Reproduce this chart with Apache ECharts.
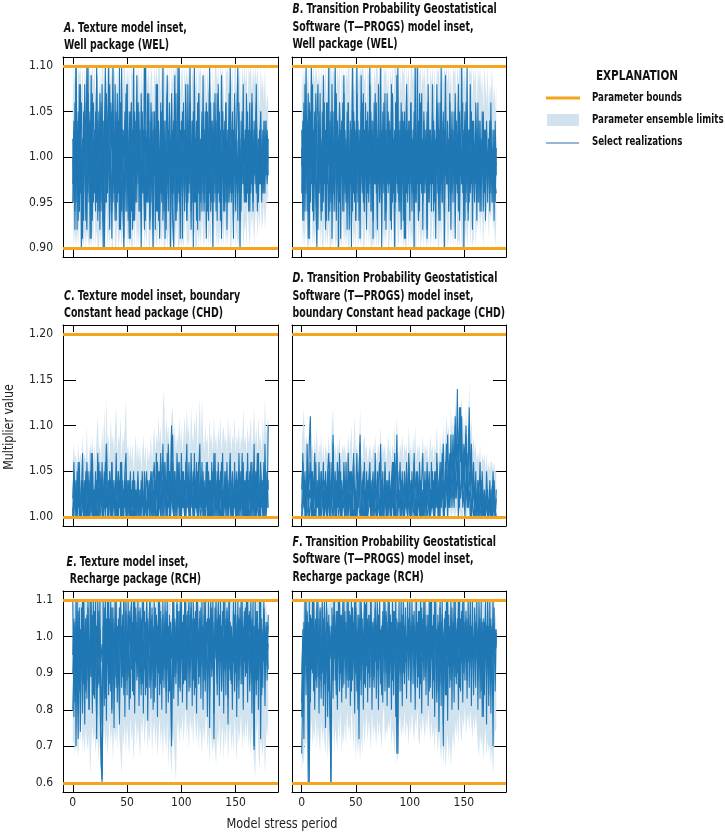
<!DOCTYPE html>
<html><head><meta charset="utf-8">
<script src="https://cdn.jsdelivr.net/npm/echarts@6/dist/echarts.min.js"></script>
<style>html,body{margin:0;padding:0;background:#fff}#c{width:725px;height:833px}</style>
</head><body><div id="c"></div>
<script>
// ---------------- DATA ----------------
const WEL_BOUNDS = [0.90, 1.10];
const CHD_BOUNDS = [1.00, 1.20];
const RCH_BOUNDS = [0.60, 1.10];

// Panel A: Texture model inset, WEL
const A_hi = [1.06,1.10,1.08,1.10,1.05,1.10,1.09,1.10,1.07,1.10,1.04,1.10,1.08,1.10,1.06,1.10,1.09,1.05,1.10,1.08,
1.10,1.06,1.10,1.09,1.04,1.10,1.07,1.10,1.10,1.05,1.10,1.08,1.10,1.06,1.10,1.08,1.10,1.04,1.10,1.09,
1.07,1.10,1.05,1.10,1.08,1.10,1.06,1.10,1.10,1.04,1.10,1.08,1.10,1.05,1.10,1.09,1.07,1.10,1.06,1.10,
1.08,1.10,1.05,1.10,1.07,1.10,1.10,1.04,1.10,1.08,1.10,1.06,1.10,1.09,1.05,1.10,1.08,1.10,1.04,1.10,
1.10,1.07,1.10,1.05,1.10,1.09,1.06,1.10,1.08,1.10,1.04,1.10,1.08,1.10,1.06,1.10,1.10,1.05,1.10,1.07,
1.09,1.10,1.04,1.10,1.08,1.10,1.06,1.10,1.10,1.05,1.10,1.08,1.10,1.07,1.10,1.04,1.10,1.09,1.10,1.06,
1.10,1.08,1.10,1.05,1.10,1.07,1.10,1.09,1.04,1.10,1.06,1.10,1.10,1.08,1.10,1.05,1.10,1.08,1.10,1.07,
1.04,1.10,1.09,1.10,1.06,1.10,1.08,1.10,1.05,1.10,1.10,1.07,1.10,1.08,1.10,1.04,1.10,1.06,1.10,1.08,
1.10,1.05,1.10,1.09,1.10,1.06,1.10,1.08,1.10,1.04,1.10,1.08,1.05,1.10,1.07,1.09,1.06,1.10,1.05,1.07,
1.06];
const A_lo = [0.94,0.90,0.95,0.90,0.92,0.90,0.94,0.90,0.90,0.96,0.90,0.92,0.90,0.95,0.91,0.90,0.94,0.90,0.92,0.90,
0.95,0.90,0.92,0.90,0.90,0.96,0.90,0.93,0.90,0.91,0.90,0.95,0.90,0.92,0.90,0.94,0.90,0.90,0.96,0.90,
0.90,0.93,0.90,0.91,0.95,0.90,0.92,0.90,0.90,0.94,0.90,0.92,0.90,0.96,0.90,0.90,0.93,0.90,0.95,0.90,
0.92,0.90,0.94,0.90,0.91,0.96,0.90,0.92,0.90,0.95,0.90,0.90,0.93,0.90,0.92,0.90,0.95,0.90,0.91,0.94,
0.90,0.92,0.90,0.95,0.90,0.90,0.94,0.90,0.92,0.90,0.96,0.90,0.91,0.90,0.93,0.90,0.95,0.90,0.90,0.92,
0.90,0.94,0.90,0.92,0.95,0.90,0.91,0.90,0.93,0.90,0.96,0.90,0.92,0.90,0.90,0.94,0.90,0.92,0.90,0.95,
0.91,0.90,0.93,0.90,0.96,0.90,0.92,0.90,0.94,0.90,0.90,0.95,0.90,0.92,0.90,0.91,0.96,0.90,0.93,0.90,
0.94,0.90,0.92,0.90,0.95,0.90,0.90,0.93,0.90,0.96,0.90,0.92,0.90,0.91,0.94,0.90,0.95,0.90,0.92,0.93,
0.90,0.95,0.92,0.90,0.94,0.92,0.96,0.90,0.93,0.95,0.91,0.94,0.92,0.96,0.92,0.93,0.95,0.92,0.94,0.96,
0.94];
const A_r1 = [0.97,1.03,0.94,1.10,0.92,1.05,0.99,1.08,0.95,1.02,0.93,1.06,1.00,1.10,0.96,1.04,0.91,1.01,1.07,0.95,
1.03,0.98,1.09,0.93,1.05,1.00,0.94,1.08,0.97,1.02,1.10,0.95,1.04,0.99,0.92,1.06,1.01,1.10,0.96,1.03,
0.94,1.07,0.98,1.05,0.93,1.10,0.96,0.91,1.04,0.99,1.08,0.93,1.02,0.97,1.06,0.92,1.00,1.05,0.95,1.09,
0.98,1.03,0.94,1.07,1.00,0.96,1.02,1.10,0.95,1.04,0.99,0.93,1.06,1.01,0.97,1.05,0.92,1.08,0.99,1.03,
0.94,1.06,1.00,0.97,1.04,0.91,1.02,1.09,0.96,1.03,0.99,1.07,0.93,0.90,1.05,0.98,1.01,1.10,0.95,1.02,
0.97,1.05,1.00,0.94,1.08,0.99,1.03,0.96,1.06,0.92,1.01,0.97,1.10,0.95,1.04,0.98,1.07,0.93,1.00,1.05,
0.96,1.03,0.99,1.06,0.94,1.01,1.08,0.97,1.04,1.00,0.95,1.07,0.98,1.02,0.96,1.05,0.93,1.09,1.00,0.97,
1.04,0.95,1.02,0.99,1.07,0.96,1.03,1.00,0.93,1.06,0.98,1.04,1.10,0.96,1.01,0.94,1.05,0.99,1.02,0.95,
1.07,0.98,1.03,0.94,1.01,1.06,0.97,1.04,0.99,1.08,0.96,1.02,0.98,1.05,0.97,1.03,1.00,0.96,1.04,0.99,
1.02];
const A_r2 = [1.02,0.95,1.06,0.98,1.04,0.93,1.08,0.96,1.01,0.91,1.05,0.99,0.94,1.03,1.07,0.97,1.00,1.09,0.93,1.02,
0.96,1.05,0.99,1.03,0.94,1.07,1.01,0.95,1.04,0.90,0.98,1.06,0.96,1.02,1.08,0.97,0.94,1.03,1.00,0.93,
1.05,0.96,1.02,0.92,1.06,0.98,1.03,0.95,0.99,1.07,0.94,1.01,0.91,1.05,0.97,1.02,0.93,0.98,1.04,0.95,
1.06,0.97,1.01,0.94,1.04,0.99,0.92,1.03,0.98,1.07,0.95,1.02,0.97,1.05,0.94,0.99,1.03,0.96,1.08,0.93,
1.01,0.96,1.05,0.93,0.99,1.04,0.97,1.02,0.94,1.06,0.92,0.98,1.03,0.96,1.00,1.07,0.94,0.99,1.02,0.91,
1.04,0.98,1.02,0.95,1.06,0.93,0.99,1.04,0.97,1.01,0.95,1.05,0.96,1.02,0.93,1.06,0.98,1.01,0.95,1.03,
0.99,0.94,1.05,0.97,1.02,0.93,1.00,1.06,0.95,1.03,0.98,1.01,0.94,1.07,0.99,0.96,1.03,0.97,1.05,0.94,
1.00,1.06,0.97,1.03,0.95,1.01,0.98,1.05,0.96,1.02,0.94,1.00,0.97,1.06,0.93,1.02,0.98,1.04,0.96,1.01,
0.95,1.03,0.98,1.06,0.97,1.00,0.94,1.02,0.97,1.05,0.99,0.95,1.03,0.97,1.01,0.96,1.04,0.98,1.00,0.97,
1.00];
const A_r3 = [1.00,0.97,1.01,0.95,1.03,0.98,0.94,1.02,1.06,0.97,0.99,1.03,0.96,0.92,1.01,1.05,0.98,0.95,1.02,1.06,
0.99,1.01,0.95,1.04,0.98,0.96,1.03,1.00,0.93,0.99,1.04,0.97,1.01,1.06,0.96,1.00,1.05,0.95,1.02,0.98,
1.00,0.95,1.04,0.98,1.01,0.94,0.99,1.03,0.96,1.00,1.02,0.97,1.05,0.99,0.94,1.03,0.98,1.01,0.97,1.02,
0.99,1.05,0.97,1.00,0.96,1.03,0.98,0.95,1.02,0.99,1.04,0.97,1.00,0.95,1.03,0.98,1.01,0.94,1.00,1.04,
0.97,1.01,0.95,1.03,0.98,1.00,0.94,0.97,1.03,0.98,1.01,0.96,1.00,1.04,0.97,0.93,1.02,0.98,0.96,1.03,
1.00,0.96,0.99,1.03,0.97,1.01,0.95,1.00,1.02,0.98,1.04,0.99,0.95,1.01,0.98,1.03,0.96,1.00,1.02,0.97,
1.03,0.98,1.00,0.95,1.02,0.99,0.96,1.01,0.99,1.04,0.97,1.00,1.03,0.96,1.01,0.98,1.02,0.95,0.99,1.03,
0.97,1.01,0.99,0.95,1.02,0.98,1.00,0.96,1.03,0.99,1.01,0.97,1.00,1.03,0.98,0.96,1.01,0.97,0.99,1.03,
0.99,0.96,1.01,0.98,1.03,0.97,1.00,0.98,1.02,0.96,1.01,0.99,0.97,1.02,0.98,1.00,0.97,1.02,0.99,1.01,
0.98];
const A_r4 = [0.95,1.04,0.92,1.10,0.97,1.03,0.94,1.06,0.90,1.02,0.96,1.08,0.93,1.01,1.10,0.95,1.04,0.91,1.05,0.97,
1.03,0.94,1.10,0.96,1.02,0.92,1.06,0.98,0.90,1.04,0.95,1.07,0.99,1.10,0.94,1.03,0.91,1.05,0.97,1.08,
0.93,1.04,0.96,1.10,0.92,1.02,0.97,0.90,1.05,0.94,1.08,0.96,1.03,0.91,1.06,0.95,1.10,0.93,1.02,0.97,
1.06,0.94,1.03,0.90,1.05,0.97,1.10,0.93,1.02,0.95,1.07,0.92,1.04,0.96,0.90,1.05,0.98,1.08,0.94,1.03,
0.91,1.05,0.96,1.10,0.94,1.02,0.92,1.07,0.97,1.04,0.90,1.06,0.95,1.01,1.09,0.93,1.04,0.96,1.10,0.94,
1.03,0.91,1.06,0.95,1.02,0.93,1.08,0.97,1.10,0.94,1.04,0.90,1.05,0.96,1.03,0.92,1.07,0.98,1.02,0.94,
1.09,0.95,1.03,0.91,1.05,0.97,1.10,0.94,1.02,0.90,1.06,0.96,1.04,0.93,1.08,0.95,1.02,0.91,1.05,0.97,
0.94,1.06,0.92,1.03,0.97,1.10,0.95,1.04,0.91,1.07,0.96,1.02,0.93,1.05,0.90,1.04,0.97,1.08,0.95,1.03,
0.97,1.05,0.94,1.02,0.96,1.07,0.95,1.03,0.98,1.06,0.94,1.02,0.97,1.05,0.95,1.01,0.96,1.04,0.98,1.03,
1.00];

// Panel B: T-PROGS model inset, WEL
const B_hi = [1.10,1.07,1.10,1.05,1.10,1.08,1.10,1.06,1.10,1.10,1.04,1.10,1.08,1.10,1.09,1.05,1.10,1.07,1.10,1.06,
1.10,1.08,1.10,1.04,1.10,1.07,1.10,1.10,1.05,1.10,1.09,1.10,1.06,1.10,1.08,1.10,1.04,1.10,1.08,1.10,
1.06,1.10,1.08,1.10,1.10,1.05,1.10,1.09,1.10,1.07,1.10,1.04,1.10,1.08,1.10,1.06,1.10,1.10,1.08,1.10,
1.05,1.10,1.09,1.10,1.07,1.10,1.04,1.10,1.08,1.10,1.10,1.06,1.10,1.08,1.10,1.05,1.10,1.09,1.10,1.07,
1.10,1.04,1.10,1.08,1.10,1.06,1.10,1.10,1.08,1.10,1.05,1.10,1.07,1.10,1.09,1.10,1.04,1.10,1.08,1.10,
1.06,1.10,1.10,1.08,1.10,1.05,1.10,1.07,1.10,1.09,1.10,1.04,1.10,1.08,1.10,1.06,1.10,1.10,1.05,1.10,
1.08,1.10,1.07,1.10,1.04,1.10,1.09,1.10,1.06,1.10,1.10,1.08,1.10,1.05,1.10,1.08,1.10,1.07,1.10,1.04,
1.10,1.09,1.10,1.06,1.10,1.08,1.10,1.10,1.05,1.10,1.08,1.10,1.07,1.10,1.04,1.10,1.09,1.10,1.06,1.10,
1.08,1.10,1.05,1.10,1.08,1.10,1.07,1.09,1.04,1.10,1.08,1.06,1.10,1.05,1.08,1.07,1.10,1.06,1.08,1.05,
1.08];
const B_lo = [0.95,0.90,0.92,0.90,0.95,0.90,0.90,0.93,0.90,0.96,0.90,0.92,0.90,0.94,0.90,0.91,0.95,0.90,0.93,0.90,
0.90,0.94,0.90,0.92,0.90,0.96,0.90,0.90,0.93,0.90,0.95,0.90,0.91,0.90,0.94,0.90,0.92,0.90,0.96,0.90,
0.92,0.90,0.95,0.90,0.90,0.93,0.90,0.96,0.90,0.92,0.90,0.94,0.90,0.91,0.95,0.90,0.93,0.90,0.90,0.94,
0.90,0.96,0.90,0.92,0.90,0.90,0.95,0.90,0.92,0.90,0.94,0.90,0.91,0.96,0.90,0.93,0.90,0.92,0.90,0.95,
0.90,0.90,0.93,0.90,0.96,0.90,0.92,0.90,0.94,0.90,0.91,0.95,0.90,0.93,0.90,0.96,0.90,0.90,0.93,0.90,
0.95,0.90,0.92,0.90,0.94,0.90,0.90,0.96,0.90,0.93,0.90,0.91,0.95,0.90,0.93,0.90,0.92,0.90,0.96,0.90,
0.91,0.94,0.90,0.93,0.90,0.95,0.90,0.90,0.93,0.90,0.96,0.90,0.92,0.90,0.94,0.90,0.91,0.95,0.90,0.93,
0.90,0.93,0.90,0.96,0.90,0.91,0.90,0.94,0.90,0.90,0.95,0.90,0.93,0.90,0.92,0.96,0.90,0.93,0.90,0.91,
0.95,0.90,0.93,0.92,0.96,0.91,0.94,0.93,0.90,0.95,0.92,0.94,0.96,0.91,0.94,0.93,0.95,0.92,0.94,0.90,
0.93];
const B_r1 = [0.96,1.04,0.93,1.08,0.98,1.02,0.91,1.06,0.99,1.10,0.94,1.03,0.97,1.07,1.00,0.92,1.05,0.98,1.01,0.94,
1.09,0.97,1.03,0.93,1.06,0.99,1.02,0.95,1.08,0.96,1.01,1.10,0.94,1.04,0.98,1.06,0.91,1.03,0.97,1.07,
1.00,0.95,1.05,0.99,0.92,1.04,0.97,1.10,0.96,1.02,0.93,1.07,0.99,1.03,0.95,1.09,0.98,1.01,0.94,1.06,
0.97,1.02,0.95,1.08,0.99,1.04,0.93,1.01,0.97,1.06,0.92,1.03,0.99,1.10,0.95,1.02,0.97,1.07,0.94,1.00,
1.05,0.98,1.03,0.92,1.07,0.99,1.01,0.95,1.09,0.97,1.02,0.94,1.06,0.98,1.04,0.91,1.00,1.08,0.96,1.03,
0.99,1.06,0.94,1.02,0.97,1.10,0.96,1.03,0.93,1.07,0.99,1.01,0.95,1.05,0.98,1.03,0.92,1.08,0.97,1.02,
0.94,1.05,0.99,1.03,0.96,1.08,0.98,0.93,1.06,1.00,0.95,1.04,0.99,1.09,0.97,1.02,0.94,1.06,1.00,0.96,
1.03,0.97,1.07,0.99,1.02,0.94,1.05,0.98,1.10,0.96,1.03,0.93,1.06,0.99,1.01,0.95,1.08,0.97,1.04,0.98,
0.95,1.06,1.00,0.97,1.04,0.94,1.02,0.98,1.05,0.96,1.03,0.99,0.95,1.02,0.97,1.04,0.99,0.95,1.01,0.97,
0.96];
const B_r2 = [1.01,0.97,1.05,0.94,1.02,0.99,1.07,0.95,1.03,0.98,1.06,0.93,1.01,0.97,1.04,1.08,0.96,1.02,0.93,1.05,
0.98,1.03,0.95,1.06,0.99,0.93,1.04,1.01,0.96,1.05,0.94,1.00,1.07,0.97,1.02,0.95,1.03,0.98,1.06,0.94,
1.03,0.98,0.95,1.06,1.00,0.97,1.03,0.94,1.05,0.99,1.02,0.96,1.04,0.93,1.01,0.98,1.06,0.95,1.03,0.99,
1.04,0.96,1.01,0.98,1.05,0.94,1.02,0.99,1.07,0.96,1.00,1.04,0.95,0.98,1.03,0.97,1.06,0.93,1.01,0.98,
0.97,1.03,0.99,1.05,0.96,1.02,0.94,1.06,0.98,1.01,0.95,1.04,0.97,1.02,0.93,1.05,0.99,0.96,1.03,0.98,
1.04,0.97,1.02,0.99,1.05,0.95,1.01,0.97,1.04,0.94,1.06,0.98,1.02,0.96,1.03,0.99,1.05,0.95,1.00,1.03,
1.01,0.97,1.04,0.95,1.02,0.98,1.06,1.00,0.96,1.03,0.99,1.05,0.94,1.01,0.98,1.04,0.96,1.02,0.97,1.05,
0.98,1.02,0.95,1.04,0.99,1.06,0.96,1.01,0.97,1.03,0.99,1.05,0.96,1.02,0.94,1.03,0.98,1.01,0.96,1.04,
1.00,0.97,1.03,0.95,0.99,1.04,0.97,1.01,0.94,1.02,0.98,1.03,0.97,0.99,1.04,0.96,1.01,0.98,1.03,0.95,
1.01];
const B_r3 = [0.99,1.02,0.97,1.01,0.96,1.04,1.00,0.98,0.95,1.03,1.00,0.97,1.05,0.99,0.94,1.01,1.03,0.97,1.00,1.02,
1.01,0.99,1.02,0.97,1.03,1.00,0.96,0.99,1.02,1.01,0.98,1.03,0.97,1.00,0.95,1.02,0.99,1.04,0.98,1.00,
0.97,1.01,0.99,1.03,0.96,1.00,1.02,0.98,1.00,0.95,1.03,0.99,1.01,0.97,1.03,1.00,0.96,1.02,0.99,1.01,
1.00,0.98,1.03,0.97,1.01,0.99,1.04,0.97,1.00,0.98,1.02,0.97,1.01,0.99,0.96,1.02,0.98,1.00,1.03,0.97,
1.01,0.97,1.00,0.99,1.02,0.96,1.03,0.99,1.00,0.96,1.03,0.99,1.01,0.97,1.02,0.99,1.03,0.98,1.00,0.97,
1.01,0.99,0.97,1.03,0.98,1.01,0.99,1.04,0.97,1.00,1.02,0.96,1.01,0.99,0.97,1.02,0.99,1.00,1.03,0.97,
0.99,1.02,0.97,1.00,0.99,1.02,0.97,1.03,0.99,0.97,1.01,0.99,1.03,0.98,1.00,0.97,1.02,0.99,1.01,0.98,
1.01,0.99,1.02,0.97,1.00,0.98,1.02,0.99,1.00,0.97,1.02,0.99,1.01,0.97,1.03,0.99,1.00,0.98,1.01,0.99,
0.98,1.01,0.99,1.02,0.97,1.00,0.99,1.02,0.98,1.00,0.97,1.01,0.99,1.02,0.98,1.00,0.97,1.01,0.99,1.00,
0.99];
const B_r4 = [1.03,0.93,1.06,0.96,1.10,0.94,1.02,0.91,1.05,0.97,1.08,0.93,1.03,0.95,0.90,1.04,0.96,1.07,0.94,1.02,
0.95,1.06,0.92,1.03,0.97,1.10,0.94,1.05,0.91,1.02,0.96,1.07,0.93,1.04,0.90,1.06,0.97,1.03,0.94,1.09,
0.96,1.02,0.92,1.06,0.95,1.03,0.90,1.08,0.97,1.04,0.93,1.10,0.95,1.02,0.91,1.05,0.97,1.07,0.94,1.03,
0.92,1.05,0.96,1.10,0.94,1.03,0.91,1.06,0.97,1.02,0.93,1.08,0.95,1.04,0.90,1.05,0.96,1.03,0.92,1.07,
0.96,1.04,0.93,1.08,0.95,1.02,0.90,1.06,0.97,1.10,0.94,1.03,0.92,1.05,0.96,1.02,0.91,1.07,0.95,1.04,
0.93,1.06,0.96,1.02,0.90,1.05,0.95,1.10,0.93,1.03,0.97,1.07,0.92,1.04,0.96,1.02,0.91,1.06,0.95,1.03,
0.97,1.08,0.94,1.02,0.91,1.05,0.96,1.03,0.93,1.10,0.95,1.04,0.90,1.06,0.97,1.02,0.94,1.07,0.92,1.03,
0.95,1.05,0.91,1.03,0.96,1.08,0.93,1.02,0.97,1.06,0.90,1.04,0.95,1.10,0.93,1.03,0.96,1.05,0.92,1.02,
0.96,1.04,0.93,1.06,0.95,1.02,0.94,1.05,0.97,1.03,0.93,1.04,0.96,1.02,0.94,1.06,0.95,1.03,0.93,1.04,
0.98];

// Panel C: Texture model inset, CHD
const C_hi = [1.06,1.08,1.06,1.07,1.05,1.08,1.06,1.07,1.05,1.09,1.06,1.07,1.06,1.10,1.05,1.07,1.08,1.05,1.09,1.06,
1.08,1.06,1.09,1.11,1.07,1.08,1.06,1.10,1.07,1.12,1.07,1.13,1.08,1.09,1.06,1.11,1.08,1.09,1.07,1.10,
1.12,1.07,1.09,1.08,1.11,1.06,1.09,1.08,1.10,1.13,1.07,1.08,1.06,1.08,1.06,1.08,1.05,1.07,1.09,1.06,
1.08,1.06,1.08,1.05,1.07,1.09,1.06,1.08,1.05,1.08,1.06,1.07,1.09,1.06,1.08,1.10,1.07,1.09,1.08,1.11,
1.08,1.10,1.07,1.12,1.14,1.08,1.11,1.09,1.10,1.07,1.09,1.11,1.12,1.08,1.10,1.07,1.09,1.08,1.11,1.08,
1.10,1.07,1.09,1.11,1.08,1.12,1.09,1.10,1.07,1.12,1.09,1.08,1.11,1.09,1.12,1.07,1.10,1.13,1.08,1.13,
1.09,1.07,1.10,1.08,1.09,1.06,1.11,1.08,1.09,1.07,1.11,1.08,1.09,1.07,1.10,1.08,1.11,1.07,1.09,1.10,
1.08,1.09,1.07,1.11,1.08,1.10,1.07,1.09,1.08,1.11,1.07,1.09,1.08,1.10,1.07,1.09,1.08,1.12,1.08,1.09,
1.07,1.10,1.08,1.09,1.11,1.07,1.09,1.12,1.08,1.10,1.07,1.11,1.08,1.09,1.07,1.11,1.08,1.13,1.09,1.10,
1.11];
const C_lo = [1.01,1.00,1.00,1.01,1.00,1.00,1.00,1.01,1.00,1.00,1.00,1.00,1.01,1.00,1.00,1.00,1.00,1.01,1.00,1.00,
1.00,1.01,1.00,1.00,1.00,1.01,1.00,1.00,1.00,1.00,1.01,1.00,1.00,1.00,1.02,1.00,1.00,1.00,1.01,1.00,
1.00,1.00,1.01,1.00,1.00,1.00,1.00,1.01,1.00,1.00,1.00,1.02,1.00,1.00,1.01,1.00,1.00,1.00,1.00,1.01,
1.00,1.01,1.00,1.00,1.00,1.00,1.01,1.00,1.00,1.02,1.00,1.00,1.00,1.01,1.00,1.00,1.00,1.01,1.00,1.00,
1.01,1.00,1.00,1.00,1.01,1.00,1.00,1.00,1.00,1.01,1.00,1.00,1.01,1.00,1.00,1.00,1.02,1.00,1.00,1.00,
1.00,1.00,1.01,1.00,1.00,1.00,1.01,1.00,1.00,1.00,1.00,1.01,1.00,1.00,1.00,1.01,1.00,1.00,1.00,1.01,
1.00,1.01,1.00,1.00,1.00,1.02,1.00,1.00,1.01,1.00,1.00,1.00,1.00,1.01,1.00,1.00,1.00,1.01,1.00,1.00,
1.01,1.00,1.00,1.00,1.01,1.00,1.00,1.00,1.00,1.01,1.00,1.00,1.02,1.00,1.00,1.00,1.01,1.00,1.00,1.00,
1.00,1.00,1.01,1.00,1.00,1.01,1.00,1.00,1.00,1.01,1.00,1.00,1.00,1.01,1.00,1.00,1.01,1.00,1.00,1.01,
1.01];
const C_r1 = [1.02,1.05,1.01,1.04,1.00,1.06,1.02,1.00,1.04,1.01,1.03,1.00,1.05,1.02,1.00,1.04,1.01,1.07,1.00,1.03,
1.01,1.05,1.00,1.03,1.06,1.01,1.04,1.00,1.02,1.05,1.01,1.08,1.00,1.04,1.02,1.00,1.06,1.01,1.03,1.00,
1.05,1.02,1.00,1.04,1.01,1.06,1.00,1.03,1.01,1.05,1.00,1.02,1.04,1.00,1.03,1.01,1.05,1.00,1.02,1.01,
1.04,1.00,1.02,1.01,1.05,1.00,1.03,1.01,1.00,1.04,1.02,1.00,1.03,1.05,1.01,1.00,1.04,1.02,1.06,1.01,
1.03,1.07,1.00,1.04,1.02,1.06,1.01,1.03,1.08,1.00,1.04,1.10,1.02,1.00,1.05,1.01,1.03,1.06,1.00,1.04,
1.01,1.05,1.02,1.00,1.06,1.03,1.01,1.04,1.00,1.07,1.02,1.00,1.05,1.01,1.03,1.00,1.06,1.02,1.04,1.01,
1.05,1.00,1.03,1.02,1.06,1.00,1.04,1.01,1.00,1.05,1.02,1.07,1.01,1.03,1.00,1.04,1.02,1.06,1.00,1.03,
1.01,1.05,1.00,1.03,1.02,1.06,1.00,1.04,1.01,1.03,1.00,1.05,1.02,1.00,1.04,1.01,1.07,1.00,1.03,1.02,
1.05,1.00,1.04,1.02,1.06,1.01,1.03,1.00,1.05,1.02,1.07,1.01,1.03,1.00,1.04,1.02,1.06,1.00,1.03,1.01,
1.10];
const C_r2 = [1.00,1.02,1.04,1.00,1.03,1.01,1.05,1.00,1.02,1.04,1.00,1.03,1.01,1.00,1.05,1.02,1.00,1.03,1.04,1.00,
1.03,1.00,1.04,1.02,1.00,1.05,1.01,1.03,1.00,1.02,1.06,1.01,1.03,1.00,1.05,1.02,1.00,1.04,1.01,1.02,
1.00,1.03,1.05,1.01,1.02,1.00,1.04,1.01,1.03,1.00,1.04,1.01,1.00,1.03,1.01,1.04,1.00,1.02,1.03,1.00,
1.02,1.03,1.00,1.04,1.01,1.02,1.00,1.03,1.05,1.00,1.02,1.04,1.01,1.00,1.03,1.02,1.00,1.04,1.01,1.03,
1.05,1.01,1.03,1.00,1.06,1.02,1.04,1.00,1.03,1.05,1.01,1.02,1.06,1.03,1.00,1.04,1.02,1.01,1.05,1.00,
1.03,1.01,1.04,1.02,1.00,1.05,1.02,1.00,1.04,1.01,1.03,1.05,1.00,1.04,1.02,1.05,1.00,1.03,1.01,1.04,
1.00,1.03,1.01,1.05,1.00,1.03,1.02,1.04,1.01,1.00,1.04,1.02,1.00,1.05,1.02,1.01,1.04,1.00,1.03,1.02,
1.04,1.00,1.03,1.01,1.04,1.00,1.02,1.03,1.00,1.05,1.02,1.00,1.04,1.03,1.01,1.05,1.00,1.02,1.04,1.00,
1.02,1.04,1.00,1.03,1.01,1.04,1.00,1.05,1.02,1.00,1.03,1.04,1.00,1.05,1.01,1.03,1.00,1.04,1.01,1.05,
1.03];
const C_r3 = [1.01,1.00,1.02,1.01,1.00,1.03,1.00,1.02,1.00,1.01,1.03,1.00,1.02,1.00,1.01,1.00,1.03,1.01,1.00,1.02,
1.00,1.02,1.01,1.00,1.03,1.00,1.01,1.04,1.00,1.02,1.00,1.03,1.01,1.00,1.02,1.04,1.00,1.01,1.03,1.00,
1.02,1.00,1.01,1.03,1.00,1.02,1.01,1.00,1.04,1.01,1.00,1.02,1.00,1.03,1.01,1.00,1.02,1.01,1.00,1.03,
1.00,1.02,1.01,1.00,1.03,1.01,1.00,1.02,1.00,1.01,1.03,1.00,1.02,1.01,1.00,1.04,1.01,1.00,1.02,1.00,
1.02,1.00,1.04,1.01,1.00,1.03,1.00,1.05,1.01,1.02,1.00,1.04,1.01,1.00,1.03,1.02,1.00,1.04,1.01,1.02,
1.00,1.03,1.01,1.04,1.00,1.02,1.03,1.01,1.00,1.04,1.01,1.02,1.00,1.03,1.01,1.00,1.03,1.01,1.00,1.02,
1.03,1.01,1.00,1.02,1.01,1.04,1.00,1.02,1.03,1.01,1.00,1.03,1.02,1.00,1.04,1.01,1.00,1.03,1.01,1.00,
1.02,1.01,1.04,1.00,1.02,1.01,1.03,1.00,1.02,1.01,1.04,1.00,1.01,1.03,1.00,1.02,1.01,1.04,1.00,1.02,
1.00,1.03,1.01,1.00,1.02,1.00,1.04,1.01,1.00,1.03,1.01,1.00,1.02,1.01,1.03,1.00,1.02,1.01,1.00,1.02,
1.04];
const C_r4 = [1.00,1.06,1.02,1.00,1.05,1.01,1.06,1.00,1.03,1.07,1.01,1.04,1.00,1.06,1.02,1.00,1.05,1.01,1.07,1.02,
1.00,1.04,1.01,1.07,1.00,1.05,1.02,1.06,1.00,1.04,1.01,1.08,1.02,1.00,1.05,1.01,1.06,1.00,1.04,1.01,
1.07,1.00,1.05,1.01,1.06,1.00,1.03,1.01,1.05,1.07,1.00,1.04,1.01,1.05,1.00,1.03,1.01,1.04,1.00,1.02,
1.05,1.00,1.03,1.01,1.04,1.00,1.05,1.02,1.00,1.04,1.01,1.03,1.05,1.00,1.04,1.06,1.01,1.07,1.00,1.05,
1.01,1.06,1.02,1.08,1.01,1.04,1.00,1.07,1.02,1.05,1.00,1.06,1.09,1.01,1.05,1.00,1.07,1.02,1.06,1.00,
1.07,1.01,1.05,1.00,1.04,1.08,1.01,1.06,1.00,1.05,1.02,1.00,1.07,1.01,1.06,1.00,1.05,1.08,1.01,1.06,
1.00,1.04,1.01,1.06,1.00,1.05,1.02,1.00,1.06,1.01,1.07,1.00,1.04,1.01,1.06,1.00,1.05,1.02,1.07,1.00,
1.05,1.01,1.06,1.00,1.04,1.07,1.01,1.05,1.00,1.06,1.01,1.04,1.00,1.07,1.02,1.05,1.00,1.06,1.01,1.04,
1.00,1.07,1.01,1.05,1.00,1.06,1.02,1.08,1.00,1.05,1.01,1.07,1.00,1.06,1.02,1.04,1.00,1.08,1.01,1.05,
1.01];

// Panel D: T-PROGS model inset, CHD
const D_hi = [1.08,1.10,1.12,1.07,1.09,1.06,1.08,1.10,1.11,1.07,1.08,1.06,1.09,1.07,1.10,1.06,1.08,1.07,1.09,1.06,
1.08,1.06,1.08,1.07,1.07,1.09,1.06,1.08,1.10,1.12,1.07,1.08,1.06,1.08,1.07,1.09,1.06,1.07,1.08,1.07,
1.08,1.06,1.07,1.09,1.07,1.08,1.10,1.06,1.08,1.11,1.07,1.08,1.07,1.06,1.12,1.07,1.06,1.08,1.09,1.07,
1.08,1.06,1.07,1.08,1.07,1.06,1.08,1.07,1.09,1.06,1.07,1.08,1.07,1.10,1.06,1.08,1.07,1.08,1.06,1.07,
1.09,1.07,1.08,1.06,1.08,1.07,1.10,1.07,1.11,1.08,1.06,1.08,1.07,1.09,1.06,1.08,1.07,1.08,1.06,1.10,
1.07,1.08,1.06,1.09,1.07,1.10,1.06,1.08,1.07,1.08,1.06,1.07,1.09,1.06,1.08,1.07,1.08,1.06,1.07,1.09,
1.07,1.08,1.06,1.08,1.07,1.10,1.07,1.06,1.09,1.07,1.08,1.10,1.07,1.09,1.11,1.08,1.10,1.07,1.12,1.09,
1.11,1.08,1.13,1.10,1.14,1.08,1.12,1.09,1.13,1.08,1.11,1.09,1.12,1.08,1.10,1.15,1.08,1.11,1.07,1.09,
1.07,1.08,1.06,1.07,1.06,1.08,1.05,1.07,1.06,1.07,1.05,1.07,1.05,1.06,1.05,1.06,1.06,1.05,1.06,1.05,
1.05];
const D_lo = [1.02,1.00,1.00,1.00,1.01,1.00,1.00,1.00,1.00,1.01,1.00,1.00,1.00,1.01,1.00,1.00,1.00,1.00,1.01,1.00,
1.00,1.00,1.01,1.00,1.00,1.00,1.00,1.01,1.00,1.00,1.00,1.01,1.00,1.00,1.00,1.00,1.02,1.00,1.00,1.00,
1.01,1.00,1.00,1.00,1.00,1.01,1.00,1.00,1.00,1.01,1.00,1.00,1.00,1.00,1.01,1.00,1.00,1.01,1.00,1.00,
1.00,1.00,1.01,1.00,1.00,1.00,1.01,1.00,1.00,1.00,1.00,1.01,1.00,1.00,1.02,1.00,1.00,1.00,1.01,1.00,
1.00,1.01,1.00,1.00,1.00,1.00,1.01,1.00,1.00,1.00,1.01,1.00,1.00,1.00,1.00,1.01,1.00,1.00,1.00,1.01,
1.00,1.00,1.00,1.01,1.00,1.00,1.00,1.02,1.00,1.00,1.01,1.00,1.00,1.00,1.00,1.01,1.00,1.00,1.01,1.00,
1.00,1.01,1.00,1.00,1.00,1.01,1.00,1.00,1.00,1.00,1.01,1.00,1.00,1.01,1.00,1.00,1.00,1.01,1.00,1.00,
1.01,1.00,1.00,1.01,1.00,1.00,1.02,1.00,1.00,1.00,1.01,1.00,1.00,1.00,1.01,1.00,1.00,1.01,1.00,1.00,
1.00,1.01,1.00,1.00,1.01,1.00,1.00,1.00,1.01,1.00,1.00,1.01,1.00,1.00,1.00,1.01,1.00,1.01,1.00,1.02,
1.01];
const D_r1 = [1.03,1.06,1.01,1.04,1.00,1.05,1.02,1.08,1.11,1.01,1.04,1.00,1.03,1.06,1.01,1.04,1.00,1.02,1.05,1.01,
1.03,1.00,1.05,1.02,1.04,1.01,1.06,1.00,1.03,1.08,1.02,1.00,1.04,1.01,1.05,1.02,1.00,1.03,1.01,1.06,
1.02,1.00,1.04,1.01,1.03,1.00,1.05,1.02,1.07,1.01,1.00,1.03,1.05,1.01,1.08,1.02,1.00,1.04,1.01,1.03,
1.00,1.04,1.02,1.05,1.01,1.00,1.03,1.01,1.05,1.02,1.00,1.04,1.06,1.01,1.00,1.03,1.02,1.05,1.00,1.02,
1.04,1.01,1.03,1.00,1.05,1.02,1.00,1.04,1.07,1.01,1.03,1.00,1.04,1.02,1.00,1.05,1.01,1.03,1.00,1.06,
1.02,1.04,1.00,1.03,1.06,1.01,1.00,1.04,1.02,1.05,1.00,1.03,1.01,1.00,1.04,1.01,1.05,1.02,1.00,1.03,
1.01,1.05,1.00,1.03,1.02,1.06,1.04,1.00,1.05,1.02,1.07,1.03,1.00,1.05,1.08,1.02,1.06,1.01,1.09,1.04,
1.07,1.02,1.10,1.05,1.14,1.03,1.12,1.06,1.08,1.02,1.07,1.04,1.09,1.01,1.05,1.10,1.03,1.06,1.01,1.04,
1.00,1.03,1.01,1.04,1.00,1.02,1.01,1.04,1.00,1.02,1.01,1.03,1.00,1.02,1.01,1.00,1.03,1.04,1.01,1.00,
1.02];
const D_r2 = [1.01,1.02,1.04,1.00,1.03,1.01,1.00,1.03,1.02,1.05,1.00,1.02,1.04,1.00,1.03,1.01,1.04,1.00,1.02,1.03,
1.00,1.04,1.01,1.03,1.00,1.05,1.02,1.01,1.06,1.00,1.03,1.02,1.00,1.04,1.01,1.03,1.05,1.00,1.02,1.01,
1.04,1.02,1.00,1.03,1.05,1.01,1.02,1.00,1.04,1.03,1.01,1.00,1.02,1.04,1.01,1.00,1.03,1.05,1.00,1.02,
1.03,1.00,1.04,1.01,1.02,1.04,1.00,1.03,1.01,1.00,1.05,1.02,1.01,1.03,1.04,1.00,1.02,1.01,1.04,1.00,
1.02,1.03,1.00,1.04,1.01,1.06,1.02,1.00,1.03,1.05,1.01,1.02,1.00,1.04,1.03,1.00,1.02,1.05,1.01,1.03,
1.00,1.02,1.04,1.01,1.00,1.03,1.05,1.00,1.02,1.01,1.04,1.00,1.03,1.02,1.00,1.04,1.01,1.03,1.05,1.00,
1.03,1.01,1.04,1.00,1.05,1.02,1.01,1.04,1.00,1.06,1.02,1.04,1.01,1.03,1.05,1.00,1.04,1.07,1.02,1.05,
1.03,1.06,1.02,1.08,1.04,1.07,1.01,1.12,1.05,1.03,1.06,1.02,1.04,1.07,1.01,1.05,1.03,1.00,1.04,1.02,
1.03,1.01,1.02,1.00,1.03,1.01,1.04,1.00,1.02,1.01,1.00,1.02,1.03,1.00,1.01,1.03,1.00,1.02,1.04,1.01,
1.00];
const D_r3 = [1.00,1.01,1.02,1.01,1.00,1.02,1.03,1.00,1.01,1.02,1.00,1.01,1.00,1.02,1.01,1.03,1.00,1.01,1.00,1.02,
1.01,1.00,1.02,1.00,1.03,1.01,1.00,1.02,1.01,1.00,1.03,1.00,1.01,1.02,1.00,1.01,1.03,1.00,1.02,1.01,
1.00,1.02,1.01,1.00,1.03,1.00,1.01,1.02,1.00,1.01,1.03,1.00,1.02,1.01,1.00,1.02,1.01,1.00,1.03,1.01,
1.02,1.00,1.01,1.03,1.00,1.02,1.01,1.00,1.02,1.03,1.00,1.01,1.02,1.00,1.01,1.02,1.00,1.03,1.01,1.00,
1.01,1.02,1.00,1.01,1.03,1.00,1.02,1.01,1.00,1.02,1.01,1.03,1.00,1.01,1.02,1.00,1.03,1.01,1.00,1.02,
1.02,1.00,1.01,1.03,1.01,1.00,1.02,1.01,1.03,1.00,1.02,1.01,1.00,1.03,1.01,1.02,1.00,1.01,1.02,1.00,
1.00,1.02,1.01,1.00,1.03,1.01,1.02,1.00,1.03,1.01,1.04,1.00,1.02,1.01,1.03,1.04,1.01,1.02,1.05,1.01,
1.04,1.01,1.05,1.02,1.06,1.00,1.04,1.02,1.05,1.01,1.03,1.00,1.04,1.02,1.01,1.03,1.00,1.02,1.01,1.00,
1.02,1.00,1.01,1.02,1.00,1.01,1.00,1.02,1.01,1.00,1.02,1.01,1.00,1.01,1.02,1.00,1.01,1.00,1.02,1.01,
1.01];
const D_r4 = [1.00,1.07,1.02,1.05,1.00,1.08,1.01,1.04,1.06,1.00,1.05,1.02,1.07,1.00,1.04,1.01,1.06,1.00,1.05,1.02,
1.06,1.00,1.04,1.01,1.05,1.07,1.00,1.04,1.02,1.09,1.01,1.05,1.00,1.06,1.02,1.07,1.00,1.04,1.01,1.05,
1.00,1.06,1.01,1.07,1.02,1.05,1.00,1.04,1.06,1.00,1.03,1.07,1.01,1.05,1.09,1.00,1.04,1.02,1.06,1.00,
1.05,1.01,1.04,1.06,1.00,1.03,1.05,1.01,1.07,1.00,1.04,1.02,1.00,1.08,1.01,1.05,1.00,1.06,1.02,1.04,
1.00,1.05,1.01,1.04,1.06,1.00,1.07,1.02,1.09,1.00,1.03,1.06,1.01,1.05,1.00,1.04,1.02,1.06,1.00,1.07,
1.03,1.00,1.05,1.01,1.07,1.02,1.00,1.05,1.01,1.06,1.00,1.04,1.07,1.01,1.05,1.00,1.06,1.02,1.04,1.00,
1.06,1.02,1.00,1.05,1.01,1.07,1.00,1.03,1.06,1.01,1.05,1.08,1.00,1.06,1.03,1.09,1.04,1.01,1.07,1.05,
1.09,1.04,1.11,1.06,1.08,1.05,1.10,1.07,1.11,1.03,1.08,1.06,1.10,1.02,1.07,1.12,1.04,1.08,1.02,1.06,
1.01,1.05,1.00,1.04,1.02,1.06,1.00,1.05,1.01,1.03,1.00,1.05,1.02,1.00,1.04,1.01,1.00,1.05,1.02,1.00,
1.03];

// Panel E: Texture model inset, RCH
const E_hi = [1.00,1.08,1.10,1.10,1.06,1.10,1.10,1.09,1.10,1.10,1.07,1.10,1.10,1.10,1.04,1.10,1.10,1.08,1.10,1.10,
1.10,1.06,1.10,1.10,1.10,1.09,1.10,1.10,1.03,1.10,1.10,1.10,1.08,1.10,1.10,1.10,1.06,1.10,1.10,1.09,
1.10,1.10,1.07,1.10,1.10,1.10,1.05,1.10,1.10,1.09,1.10,1.10,1.10,1.08,1.10,1.10,1.06,1.10,1.10,1.10,
1.09,1.10,1.10,1.04,1.10,1.10,1.10,1.08,1.10,1.10,1.07,1.10,1.10,1.10,1.09,1.10,1.05,1.10,1.10,1.10,
1.10,1.08,1.10,1.10,1.06,1.10,1.10,1.10,1.09,1.10,1.10,1.04,1.10,1.10,1.10,1.07,1.10,1.10,1.08,1.10,
1.10,1.10,1.06,1.10,1.10,1.09,1.10,1.10,1.10,1.05,1.10,1.10,1.08,1.10,1.10,1.10,1.07,1.10,1.10,1.09,
1.10,1.10,1.04,1.10,1.10,1.10,1.08,1.10,1.10,1.06,1.10,1.10,1.10,1.09,1.10,1.10,1.05,1.10,1.10,1.10,
1.08,1.10,1.10,1.10,1.06,1.10,1.10,1.09,1.10,1.10,1.10,1.04,1.10,1.10,1.07,1.10,1.10,1.10,1.09,1.10,
1.10,1.06,1.10,1.10,1.10,1.08,1.10,1.10,1.05,1.10,1.10,1.10,1.07,1.10,1.10,1.09,1.10,1.06,1.10,1.03,
1.05];
const E_lo = [0.70,0.72,0.68,0.76,0.70,0.67,0.74,0.71,0.78,0.69,0.73,0.68,0.75,0.71,0.69,0.74,0.62,0.70,0.76,0.71,
0.74,0.68,0.77,0.71,0.66,0.73,0.64,0.60,0.70,0.76,0.69,0.74,0.67,0.72,0.78,0.70,0.75,0.66,0.77,0.71,
0.75,0.69,0.79,0.72,0.68,0.62,0.74,0.70,0.77,0.68,0.76,0.72,0.67,0.78,0.71,0.75,0.66,0.73,0.78,0.70,
0.76,0.72,0.67,0.77,0.73,0.80,0.70,0.75,0.78,0.69,0.74,0.71,0.80,0.68,0.74,0.77,0.70,0.76,0.67,0.73,
0.78,0.70,0.75,0.67,0.76,0.72,0.69,0.77,0.64,0.73,0.67,0.62,0.75,0.71,0.66,0.60,0.74,0.78,0.70,0.76,
0.73,0.79,0.71,0.76,0.81,0.72,0.77,0.69,0.79,0.74,0.77,0.70,0.80,0.75,0.71,0.78,0.69,0.76,0.73,0.68,
0.76,0.71,0.75,0.80,0.69,0.74,0.65,0.76,0.71,0.68,0.77,0.69,0.65,0.74,0.70,0.78,0.67,0.73,0.76,0.66,
0.75,0.70,0.77,0.66,0.73,0.77,0.69,0.74,0.68,0.78,0.72,0.66,0.76,0.71,0.74,0.79,0.69,0.75,0.71,0.77,
0.72,0.78,0.69,0.74,0.67,0.76,0.70,0.66,0.61,0.73,0.77,0.68,0.64,0.75,0.70,0.67,0.73,0.62,0.71,0.76,
0.72];
const E_r1 = [0.95,1.05,0.82,1.10,0.90,0.72,1.08,0.88,1.02,0.79,1.10,0.93,0.85,1.06,0.97,0.80,1.10,0.89,1.03,0.84,
1.07,0.92,0.78,1.10,0.96,0.86,0.65,0.61,0.90,1.08,0.83,1.02,0.94,1.10,0.87,0.99,0.79,1.05,0.91,1.10,
0.86,1.03,0.95,0.80,1.10,0.90,1.06,0.84,0.97,1.10,0.88,1.01,0.92,0.83,1.08,0.95,0.87,1.10,0.93,1.04,
0.89,1.07,0.96,0.84,1.02,1.10,0.91,0.98,0.86,1.05,0.93,1.10,0.88,1.00,0.95,0.82,1.08,0.97,1.03,0.90,
1.10,0.87,0.99,1.06,0.92,1.10,0.85,1.02,0.95,0.88,1.04,0.72,0.97,1.10,0.89,1.01,0.93,1.07,0.86,1.10,
0.94,1.04,0.87,1.10,0.96,0.90,1.07,0.85,1.00,1.10,0.93,0.98,1.05,0.86,1.10,0.95,1.02,0.89,1.08,0.97,
1.03,0.88,1.10,0.94,0.99,1.06,0.84,1.10,0.92,1.01,0.79,1.08,0.96,0.89,1.10,0.93,1.04,0.85,1.00,1.10,
0.91,1.05,0.97,0.83,1.10,0.94,1.02,0.88,1.07,0.96,1.10,0.86,0.99,1.05,0.92,1.10,0.87,1.03,0.95,1.08,
0.90,1.10,0.98,0.85,1.04,0.92,1.10,0.70,0.96,1.07,0.88,1.02,0.94,1.10,0.84,0.99,1.06,0.91,1.03,0.95,
0.98];
const E_r2 = [0.80,0.92,1.03,0.86,0.98,1.07,0.85,1.02,0.91,1.10,0.87,0.99,1.05,0.83,1.08,0.94,0.89,1.02,0.96,1.10,
0.88,1.04,0.95,0.86,1.07,0.99,0.90,0.76,1.03,0.93,1.10,0.87,1.00,0.92,1.05,0.85,1.08,0.96,1.02,0.89,
1.05,0.93,0.87,1.08,0.98,1.03,0.91,1.10,0.86,0.95,1.02,0.89,1.07,0.97,0.93,1.04,0.84,0.99,1.08,0.92,
1.02,0.91,1.08,0.97,0.87,0.95,1.04,0.89,1.10,0.94,0.99,0.86,1.05,0.92,1.03,0.97,0.90,1.06,0.93,1.00,
0.92,1.05,0.96,0.88,1.02,0.97,1.07,0.91,1.03,0.85,0.95,1.00,1.06,0.92,1.03,0.87,1.09,0.94,1.01,0.90,
1.05,0.90,1.02,0.95,0.88,1.06,0.97,1.03,0.91,0.96,1.05,0.88,0.99,1.07,0.93,1.00,0.89,1.05,0.95,1.02,
0.92,1.06,0.97,1.02,0.88,0.94,1.05,0.98,1.08,0.91,0.99,0.94,1.04,0.87,1.00,1.06,0.93,0.98,1.07,0.90,
1.03,0.94,1.08,0.96,0.91,1.04,0.87,0.99,0.93,1.06,0.90,1.02,0.95,0.88,1.05,0.97,1.01,0.92,1.07,0.94,
1.04,0.93,1.00,1.07,0.90,0.97,0.94,1.03,0.88,0.96,1.05,0.92,0.99,0.87,1.02,0.94,1.08,0.97,0.92,1.04,
0.91];
const E_r3 = [0.90,0.98,0.94,1.01,0.87,0.95,1.02,0.92,0.97,0.89,1.03,0.96,1.00,0.92,1.04,0.88,0.99,0.95,1.06,0.93,
1.00,0.95,1.03,0.90,0.98,1.02,0.93,0.98,0.95,1.01,0.92,1.05,0.97,0.90,1.00,0.96,1.03,0.92,1.00,0.95,
0.98,1.01,0.93,1.04,0.95,0.99,0.89,1.02,0.96,1.00,0.93,1.06,0.98,1.02,0.91,1.00,0.97,1.03,0.94,1.00,
0.96,1.02,0.93,1.05,0.98,0.92,1.00,1.04,0.95,1.01,0.97,1.03,0.94,1.06,0.90,1.02,0.97,0.93,1.01,1.05,
0.97,1.00,0.93,1.02,0.96,0.91,1.00,1.05,0.88,0.99,1.02,0.94,1.00,0.96,1.04,0.93,0.99,1.02,0.95,0.98,
1.01,0.97,1.05,0.92,1.00,0.96,1.03,0.94,1.06,1.00,0.98,1.04,0.93,1.01,0.97,1.05,0.95,1.00,0.92,1.03,
0.98,1.02,0.95,1.00,1.05,0.97,1.01,0.93,1.00,1.04,0.95,1.02,0.98,1.05,0.94,1.00,0.97,1.03,0.93,1.00,
0.97,1.02,0.93,1.05,0.99,0.95,1.03,0.97,1.01,0.92,1.04,0.98,1.06,0.94,1.00,0.96,1.04,0.98,0.93,1.01,
0.96,1.03,0.94,1.00,0.97,1.05,0.92,0.99,1.03,0.94,1.00,0.97,1.04,0.95,1.01,0.97,0.93,1.02,0.96,0.99,
1.03];
const E_r4 = [1.10,0.78,1.04,0.70,1.10,0.85,1.00,0.74,1.08,0.82,1.10,0.76,1.05,0.88,1.10,0.80,0.98,1.10,0.79,1.06,
0.83,1.10,0.72,1.02,0.87,1.10,0.74,0.60,1.10,0.81,1.06,0.77,1.10,0.84,0.97,1.10,0.80,1.08,0.75,1.03,
1.10,0.82,1.05,0.76,1.10,0.86,0.99,1.10,0.78,1.07,0.84,1.10,0.80,1.03,1.10,0.85,1.10,0.79,1.06,0.88,
1.10,0.81,1.04,0.87,1.10,0.79,1.07,0.84,1.10,0.77,1.02,1.10,0.83,1.08,0.80,1.10,0.86,1.03,0.78,1.10,
0.84,1.07,0.80,1.10,0.86,1.04,0.79,1.10,0.82,1.06,0.88,0.70,1.10,0.83,1.05,0.90,1.10,0.81,1.07,0.85,
1.10,0.82,1.06,0.88,1.10,0.80,1.03,1.10,0.86,1.08,0.81,1.10,0.84,1.05,0.79,1.10,0.87,1.07,0.83,1.10,
0.80,1.10,0.85,1.04,0.78,1.10,0.75,1.06,0.89,1.10,0.72,1.03,1.10,0.84,1.07,0.81,1.10,0.86,1.04,0.79,
1.10,0.84,1.07,0.76,1.10,0.88,1.02,0.80,1.10,0.85,1.06,0.78,1.10,0.83,1.08,0.87,1.10,0.80,1.05,0.89,
1.10,0.82,1.06,0.87,1.10,0.79,1.03,0.69,1.10,0.84,1.07,0.80,1.10,0.72,1.05,0.86,1.10,0.81,1.04,0.88,
1.06];

// Panel F: T-PROGS model inset, RCH
const F_hi = [0.98,1.05,1.10,1.10,1.08,1.10,1.10,1.06,1.10,1.10,1.10,1.09,1.10,1.07,1.10,1.10,1.10,1.05,1.10,1.10,
1.08,1.10,1.10,1.10,1.06,1.10,1.10,1.09,1.10,1.10,1.04,1.10,1.10,1.10,1.08,1.10,1.10,1.07,1.10,1.10,
1.10,1.09,1.10,1.05,1.10,1.10,1.10,1.08,1.10,1.10,1.07,1.10,1.10,1.10,1.09,1.10,1.06,1.10,1.10,1.10,
1.08,1.10,1.10,1.10,1.05,1.10,1.10,1.09,1.10,1.10,1.10,1.07,1.10,1.10,1.04,1.10,1.10,1.10,1.08,1.10,
1.10,1.10,1.06,1.10,1.10,1.09,1.10,1.10,1.10,1.07,1.10,1.10,1.05,1.10,1.10,1.10,1.08,1.10,1.10,1.09,
1.10,1.10,1.10,1.06,1.10,1.10,1.08,1.10,1.10,1.10,1.05,1.10,1.10,1.09,1.10,1.10,1.07,1.10,1.10,1.10,
1.09,1.10,1.10,1.10,1.06,1.10,1.10,1.08,1.10,1.10,1.10,1.04,1.10,1.10,1.09,1.10,1.10,1.07,1.10,1.10,
1.10,1.05,1.10,1.10,1.10,1.08,1.10,1.10,1.09,1.10,1.10,1.10,1.06,1.10,1.10,1.10,1.08,1.10,1.10,1.07,
1.10,1.10,1.09,1.10,1.10,1.06,1.10,1.10,1.10,1.08,1.10,1.10,1.05,1.10,1.10,1.09,1.10,1.07,1.10,1.06,
1.04];
const F_lo = [0.63,0.67,0.65,0.72,0.69,0.76,0.68,0.60,0.71,0.78,0.70,0.75,0.71,0.79,0.69,0.76,0.72,0.68,0.77,0.71,
0.75,0.71,0.68,0.78,0.66,0.73,0.77,0.60,0.70,0.78,0.68,0.75,0.72,0.69,0.78,0.71,0.80,0.68,0.74,0.71,
0.77,0.70,0.80,0.74,0.76,0.71,0.81,0.75,0.69,0.78,0.66,0.73,0.68,0.76,0.66,0.73,0.68,0.78,0.70,0.75,
0.79,0.71,0.77,0.74,0.69,0.80,0.72,0.76,0.74,0.70,0.78,0.72,0.77,0.73,0.69,0.78,0.81,0.71,0.75,0.73,
0.77,0.74,0.79,0.70,0.75,0.72,0.68,0.76,0.65,0.71,0.75,0.79,0.72,0.76,0.73,0.80,0.72,0.77,0.75,0.70,
0.78,0.73,0.80,0.75,0.71,0.78,0.74,0.81,0.72,0.70,0.77,0.73,0.79,0.75,0.72,0.78,0.74,0.80,0.76,0.71,
0.77,0.72,0.75,0.69,0.76,0.73,0.68,0.75,0.70,0.66,0.73,0.65,0.71,0.64,0.69,0.74,0.66,0.72,0.64,0.70,
0.74,0.68,0.77,0.72,0.78,0.70,0.80,0.74,0.71,0.78,0.75,0.81,0.73,0.77,0.79,0.74,0.80,0.76,0.72,0.78,
0.74,0.79,0.75,0.70,0.67,0.74,0.70,0.73,0.66,0.71,0.75,0.67,0.72,0.68,0.71,0.65,0.70,0.62,0.69,0.74,
0.75];
const F_r1 = [0.68,0.86,1.04,0.92,1.10,0.88,0.99,0.60,1.06,0.91,1.10,0.85,1.02,0.94,1.10,0.89,1.05,0.97,0.83,1.08,
0.93,1.10,0.87,1.01,0.78,1.06,0.92,0.60,1.03,0.88,1.10,0.95,0.84,1.07,0.98,1.10,0.90,1.03,0.86,1.10,
0.96,1.04,0.88,1.10,0.93,0.99,0.85,1.08,0.95,1.10,0.90,1.02,0.80,1.06,0.88,1.10,0.94,1.00,0.87,1.09,
0.92,1.05,0.98,0.86,1.10,0.93,1.03,0.89,1.08,0.96,1.10,0.87,1.01,0.94,0.84,1.07,0.97,1.10,0.90,1.04,
0.86,1.10,0.95,1.02,0.88,1.07,0.93,1.10,0.68,0.97,1.04,0.90,1.10,0.85,1.02,0.96,1.08,0.89,1.03,0.94,
1.10,0.88,1.01,0.95,1.07,0.86,1.10,0.92,1.04,0.97,0.87,1.08,0.93,1.10,0.89,1.02,0.96,1.06,0.85,1.10,
0.94,1.03,0.88,1.10,0.95,0.82,1.06,0.91,1.10,0.87,1.01,0.76,0.98,1.07,0.84,1.10,0.92,1.03,0.88,1.08,
0.95,1.10,0.89,1.02,0.96,1.10,0.86,1.05,0.93,1.10,0.90,0.99,1.07,0.88,1.03,0.95,1.10,0.91,1.04,0.87,
1.08,0.93,1.02,0.88,1.10,0.95,0.85,1.04,0.78,0.99,1.06,0.90,1.10,0.84,0.97,1.05,0.89,1.10,0.93,1.02,
0.98];
const F_r2 = [0.82,0.95,0.89,1.03,0.94,1.07,0.91,0.99,0.86,1.05,0.93,1.10,0.97,0.88,1.04,0.95,0.92,1.08,0.96,0.90,
1.05,0.87,0.99,1.08,0.93,0.85,1.03,0.96,0.90,1.06,0.94,1.00,1.07,0.91,1.03,0.88,0.97,1.06,0.93,0.99,
1.07,0.91,1.02,0.95,0.88,1.06,0.97,0.92,1.04,0.89,1.08,0.94,1.00,0.87,1.05,0.93,1.02,0.96,1.07,0.91,
1.03,0.95,0.90,1.06,0.97,1.01,0.88,1.05,0.93,0.99,0.91,1.06,0.95,1.02,0.98,0.90,1.04,0.94,1.07,0.97,
1.01,0.93,1.06,0.90,0.98,0.94,1.03,0.87,0.96,1.04,0.92,1.00,0.95,1.06,0.90,1.03,0.93,1.00,0.96,1.05,
0.94,1.03,0.97,1.06,0.92,1.00,0.96,1.04,0.89,1.07,0.95,0.99,1.02,0.94,1.06,0.91,1.00,0.95,1.04,0.93,
1.02,0.91,1.05,0.96,1.01,0.93,0.98,1.04,0.90,0.96,1.06,0.92,1.01,0.88,1.03,0.95,1.00,0.94,1.05,0.92,
1.01,0.93,1.04,0.97,0.90,1.03,0.96,0.99,1.06,0.92,1.02,0.95,0.99,1.05,0.93,1.00,0.96,1.03,0.94,1.00,
0.95,1.04,0.97,1.01,0.92,1.05,0.96,0.99,0.93,1.04,0.95,1.01,0.94,1.03,0.98,0.91,1.02,0.95,1.00,0.96,
1.01];
const F_r3 = [0.90,1.00,0.96,0.99,1.02,0.95,1.04,0.93,1.01,0.97,1.03,0.96,1.00,1.05,0.95,1.01,0.98,1.03,0.94,1.00,
0.98,1.02,0.95,1.00,1.04,0.97,1.01,0.94,1.03,0.99,0.96,1.02,0.98,1.04,0.95,1.00,1.03,0.97,1.01,0.96,
1.02,0.97,1.00,1.04,0.95,1.01,0.98,1.03,0.96,1.00,0.94,1.02,0.97,1.05,0.99,0.95,1.01,0.98,1.03,0.96,
1.00,1.03,0.96,1.01,0.98,1.04,0.95,1.00,1.02,0.97,1.03,0.99,0.94,1.01,0.97,1.04,0.98,1.00,0.95,1.02,
0.97,1.01,0.99,1.04,0.95,1.00,0.98,1.02,0.93,1.01,0.97,1.04,0.99,0.96,1.02,0.98,1.00,0.95,1.03,0.99,
1.01,0.96,1.04,0.99,1.00,0.97,1.03,0.95,1.01,0.98,1.04,0.96,1.00,1.02,0.97,1.03,0.99,1.01,0.96,1.02,
0.98,1.03,0.96,1.00,0.97,1.02,0.95,1.01,0.98,1.04,0.96,0.99,1.03,0.97,1.00,0.95,1.02,0.98,1.01,0.96,
1.03,0.98,1.00,0.96,1.04,0.97,1.01,0.99,0.95,1.02,0.98,1.04,0.96,1.00,0.97,1.03,0.99,0.96,1.01,0.98,
1.00,0.96,1.03,0.98,1.01,0.94,1.00,0.97,1.02,0.95,0.99,1.03,0.97,1.00,0.95,1.02,0.98,1.01,0.96,1.00,
0.97];
const F_r4 = [0.78,1.02,0.72,1.10,0.84,1.06,0.60,1.10,0.82,1.05,0.90,1.10,0.80,1.03,0.86,1.10,0.79,1.07,0.88,1.10,
0.81,1.05,0.75,1.10,0.86,1.02,0.79,0.60,1.08,0.83,1.10,0.88,1.04,0.80,1.10,0.85,1.06,0.82,1.10,0.87,
1.04,0.83,1.10,0.86,1.07,0.81,1.10,0.88,1.03,0.79,1.10,0.85,1.06,0.72,1.10,0.84,1.05,0.80,1.10,0.86,
1.10,0.82,1.06,0.89,1.10,0.80,1.04,0.86,1.10,0.83,1.07,0.80,1.10,0.87,1.03,0.82,1.10,0.85,1.06,0.81,
1.10,0.86,1.03,0.80,1.10,0.84,1.07,0.78,1.05,0.68,1.10,0.85,1.04,0.81,1.10,0.87,1.06,0.83,1.10,0.88,
1.05,0.82,1.10,0.87,1.03,0.80,1.10,0.86,1.07,0.83,1.10,0.79,1.05,0.88,1.10,0.84,1.06,0.81,1.10,0.86,
1.10,0.83,1.06,0.78,1.10,0.85,1.03,0.74,1.08,0.81,1.10,0.70,1.05,0.84,1.10,0.77,1.06,0.86,1.10,0.80,
1.04,0.82,1.10,0.87,1.05,0.80,1.10,0.85,1.07,0.82,1.10,0.88,1.03,0.83,1.10,0.86,1.06,0.81,1.10,0.84,
1.06,0.86,1.10,0.80,1.04,0.83,1.10,0.78,1.05,0.84,1.10,0.76,1.07,0.81,1.10,0.79,1.03,0.70,1.08,0.85,
1.02];

// ---------------- LAYOUT / STYLE ----------------
const FONT = "'DejaVu Sans Condensed','Liberation Sans Narrow',sans-serif";
const ORANGE = '#f6a31e';
const LIGHT = '#d1e3ef';
const DARK = '#1f77b4';
const X_RANGE = [-9, 189];
const TSCALE = 0.72;

const panels = [
  {title:'{i|A}. Texture model inset,\nWell package (WEL)', tl:64, tt:19,
   left:63, top:57, width:215, height:200, yr:[0.89,1.11], step:0.05, dec:2, bounds:WEL_BOUNDS,
   lo:A_lo, hi:A_hi, reals:[A_r1,A_r2,A_r3,A_r4], yl:true, xl:false},
  {title:'{i|B}. Transition Probability Geostatistical\nSoftware (T\u2014PROGS) model inset,\nWell package (WEL)', tl:292.5, tt:0.5,
   left:292, top:57, width:214, height:200, yr:[0.89,1.11], step:0.05, dec:2, bounds:WEL_BOUNDS,
   lo:B_lo, hi:B_hi, reals:[B_r1,B_r2,B_r3,B_r4], yl:false, xl:false},
  {title:'{i|C}. Texture model inset, boundary\nConstant head package (CHD)', tl:64, tt:287,
   left:63, top:325, width:215, height:201, yr:[0.99,1.21], step:0.05, dec:2, bounds:CHD_BOUNDS,
   lo:C_lo, hi:C_hi, reals:[C_r1,C_r2,C_r3,C_r4], yl:true, xl:false},
  {title:'{i|D}. Transition Probability Geostatistical\nSoftware (T\u2014PROGS) model inset,\nboundary Constant head package (CHD)', tl:292.5, tt:269.5,
   left:292, top:325, width:214, height:201, yr:[0.99,1.21], step:0.05, dec:2, bounds:CHD_BOUNDS,
   lo:D_lo, hi:D_hi, reals:[D_r1,D_r2,D_r3,D_r4], yl:false, xl:false},
  {title:'{i|E}. Texture model inset,\n Recharge package (RCH)', tl:66.5, tt:553,
   left:63, top:591, width:215, height:201, yr:[0.575,1.125], step:0.1, dec:1, bounds:RCH_BOUNDS,
   lo:E_lo, hi:E_hi, reals:[E_r1,E_r2,E_r3,E_r4], yl:true, xl:true},
  {title:'{i|F}. Transition Probability Geostatistical\nSoftware (T\u2014PROGS) model inset,\nRecharge package (RCH)', tl:292.5, tt:533,
   left:292, top:591, width:214, height:201, yr:[0.575,1.125], step:0.1, dec:1, bounds:RCH_BOUNDS,
   lo:F_lo, hi:F_hi, reals:[F_r1,F_r2,F_r3,F_r4], yl:false, xl:true}
];

const grid = [], xAxis = [], yAxis = [], series = [];
const graphic = [];
const axisLine = {show:true, onZero:false, lineStyle:{color:'#000', width:1}};

panels.forEach((p, k) => {
  grid.push({left:p.left, top:p.top, width:p.width, height:p.height, containLabel:false});
  graphic.push({type:'text', x:p.tl, y:p.tt, scaleX:TSCALE, z:10,
    style:{text:p.title, font:'bold 14.5px '+FONT, fill:'#111', lineHeight:17.5, textAlign:'left', textVerticalAlign:'top',
      rich:{i:{font:'italic bold 14.5px '+FONT, fill:'#111', lineHeight:17.5}}}});
  ['bottom','top'].forEach((pos, j) => {
    xAxis.push({type:'value', gridIndex:k, position:pos, min:X_RANGE[0], max:X_RANGE[1],
      minInterval:50, maxInterval:50, axisLine,
      axisTick:{show:true, inside:true, length:7, lineStyle:{color:'#000', width:1}},
      axisLabel:{show: p.xl && j===0, showMinLabel:false, showMaxLabel:false, margin:5,
        fontFamily:FONT, fontSize:12, color:'#222'},
      splitLine:{show:false}});
  });
  ['left','right'].forEach((pos, j) => {
    yAxis.push({type:'value', gridIndex:k, position:pos, min:p.yr[0], max:p.yr[1],
      minInterval:p.step, maxInterval:p.step, axisLine,
      axisTick:{show:true, inside:true, length:13, lineStyle:{color:'#000', width:1}},
      axisLabel:{show: p.yl && j===0, showMinLabel:false, showMaxLabel:false, margin:10,
        fontFamily:FONT, fontSize:12, color:'#222', formatter:v => v.toFixed(p.dec)},
      splitLine:{show:false}});
  });
  const ai = 2*k;
  // ensemble limits (envelope always contains the select realizations)
  const bandLo = p.lo.map((v,i) => Math.min(v, ...p.reals.map(r => r[i])));
  const bandHi = p.hi.map((v,i) => Math.max(v, ...p.reals.map(r => r[i])));
  series.push({type:'custom', xAxisIndex:ai, yAxisIndex:ai, silent:true, z:1, clip:true,
    data: bandLo.map((v,i) => [i, v, bandHi[i]]),
    encode:{x:0, y:[1,2]},
    renderItem:(params, api) => {
      if (params.dataIndex !== 0) return null;
      const pts = [];
      for (let i = 0; i < bandHi.length; i++) pts.push(api.coord([i, bandHi[i]]));
      for (let i = bandLo.length - 1; i >= 0; i--) pts.push(api.coord([i, bandLo[i]]));
      return {type:'polygon', shape:{points:pts}, style:{fill:LIGHT}};
    }});
  p.reals.forEach(r => {
    series.push({type:'line', xAxisIndex:ai, yAxisIndex:ai, symbol:'none', silent:true,
      data: r.map((v,i) => [i, v]), lineStyle:{color:DARK, width:1.1, opacity:1}, z:2});
  });
  series.push({type:'line', xAxisIndex:ai, yAxisIndex:ai, data:[], silent:true, z:5,
    markLine:{silent:true, symbol:['none','none'], label:{show:false},
      lineStyle:{color:ORANGE, width:3, type:'solid', opacity:1},
      data: p.bounds.map(b => ({yAxis:b}))}});
});

graphic.push(
  {type:'text', x:9, y:427, rotation:Math.PI/2, scaleX:0.88, style:{text:'Multiplier value', font:'14px '+FONT, fill:'#222', textAlign:'center', textVerticalAlign:'middle'}},
  {type:'text', x:282, y:824, scaleX:0.9, style:{text:'Model stress period', font:'14px '+FONT, fill:'#222', textAlign:'center', textVerticalAlign:'middle'}},
  {type:'text', x:637, y:76, scaleX:0.83, style:{text:'EXPLANATION', font:'bold 14px '+FONT, fill:'#111', textAlign:'center', textVerticalAlign:'middle'}},
  {type:'line', shape:{x1:546, y1:98, x2:580, y2:98}, style:{stroke:ORANGE, lineWidth:3}},
  {type:'rect', shape:{x:547, y:114, width:32, height:12}, style:{fill:LIGHT}},
  {type:'line', shape:{x1:546, y1:143, x2:579, y2:143}, style:{stroke:'#2a6fa6', lineWidth:1.2}},
  {type:'text', x:592, y:98, scaleX:0.74, style:{text:'Parameter bounds', font:'bold 13px '+FONT, fill:'#111', textVerticalAlign:'middle'}},
  {type:'text', x:592, y:120, scaleX:0.74, style:{text:'Parameter ensemble limits', font:'bold 13px '+FONT, fill:'#111', textVerticalAlign:'middle'}},
  {type:'text', x:592, y:142, scaleX:0.74, style:{text:'Select realizations', font:'bold 13px '+FONT, fill:'#111', textVerticalAlign:'middle'}}
);

const chart = echarts.init(document.getElementById('c'), null, {renderer:'canvas'});
chart.setOption({animation:false, backgroundColor:'#fff', grid, xAxis, yAxis, series, graphic});
</script></body></html>
